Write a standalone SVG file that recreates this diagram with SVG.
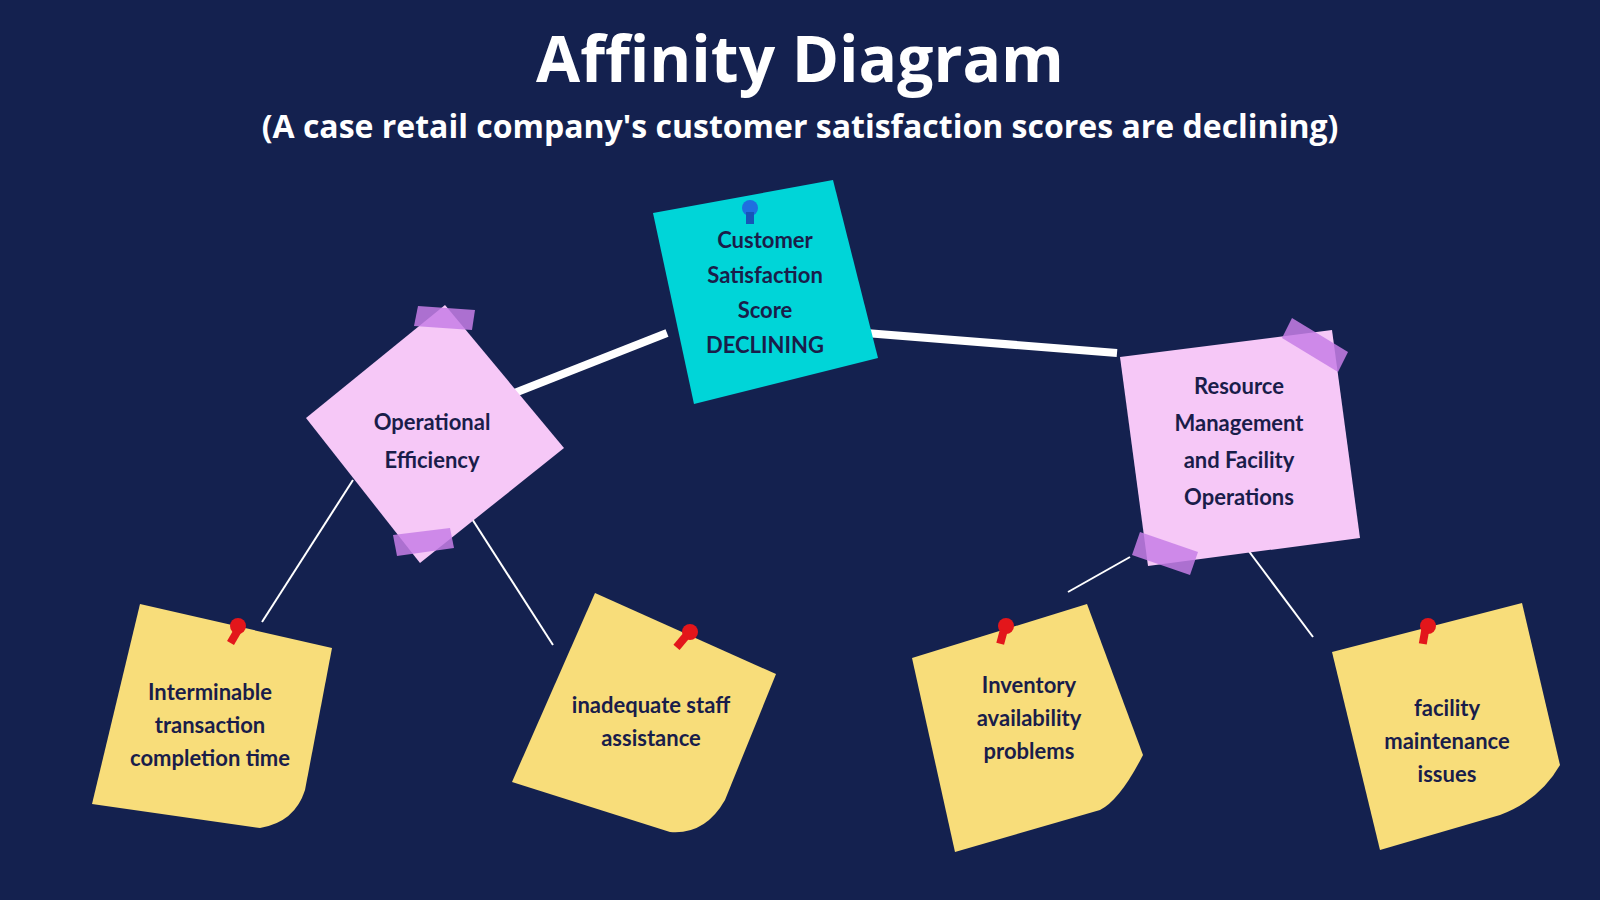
<svg xmlns="http://www.w3.org/2000/svg" width="1600" height="900" viewBox="0 0 1600 900">
<style>
.t{font-family:"Open Sans","Liberation Sans",sans-serif;font-weight:700;fill:#ffffff;text-anchor:middle}
.n{font-family:"Lato","Open Sans","Liberation Sans",sans-serif;font-weight:700;fill:#1a1d4a;text-anchor:middle;font-size:22px}
.y{fill:#f8dd7a}
.p{fill:#f6c8f7}
.tape{fill:#c77ee6;opacity:0.85}
.pin{fill:#e3161b}
.thick{stroke:#ffffff;stroke-width:8;fill:none}
.thin{stroke:#ffffff;stroke-width:2;fill:none}
</style>
<rect width="1600" height="900" fill="#14214f"/>
<text class="t" x="800" y="82" font-size="64">Affinity Diagram</text>
<text class="t" x="800" y="138" font-size="32">(A case retail company's customer satisfaction scores are declining)</text>
<g id="connectors">
<line class="thick" x1="512" y1="394" x2="667" y2="333"/>
<line class="thick" x1="853" y1="332" x2="1117" y2="353"/>
<line class="thin" x1="353" y1="480" x2="262" y2="622"/>
<line class="thin" x1="465" y1="508" x2="553" y2="645"/>
<line class="thin" x1="1130" y1="557" x2="1068" y2="592"/>
<line class="thin" x1="1242" y1="542" x2="1313" y2="637"/>
</g>
<g id="center">
<polygon points="653,213 833,180 878,358 694,404" fill="#00d5d8"/>
<circle cx="750" cy="208" r="8" fill="#1f6fe0"/>
<rect x="746" y="212" width="8" height="12" fill="#1556b8"/>
<text class="n" x="765" y="248">Customer</text>
<text class="n" x="765" y="283">Satisfaction</text>
<text class="n" x="765" y="318">Score</text>
<text class="n" x="765" y="353">DECLINING</text>
</g>
<g id="operational">
<polygon class="p" points="445,305 564,448 420,563 306,418"/>
<polygon class="tape" points="418,306 475,310 472,330 414,326"/>
<polygon class="tape" points="393,535 450,528 454,548 397,556"/>
<text class="n" x="432" y="430" font-size="25">Operational</text>
<text class="n" x="432" y="468" font-size="25">Efficiency</text>
</g>
<g id="resource">
<polygon class="p" points="1120,357 1332,330 1360,538 1148,566"/>
<polygon class="tape" points="1292,318 1348,352 1338,372 1282,338"/>
<polygon class="tape" points="1140,532 1198,552 1190,575 1132,555"/>
<text class="n" x="1239" y="394" font-size="24">Resource</text>
<text class="n" x="1239" y="431" font-size="24">Management</text>
<text class="n" x="1239" y="468" font-size="24">and Facility</text>
<text class="n" x="1239" y="505" font-size="24">Operations</text>
</g>
<g id="note1">
<path class="y" d="M140,604 L332,648 L305,790 Q295,822 260,828 L92,804 Z"/>
<circle class="pin" cx="238" cy="626" r="8"/><rect class="pin" x="230" y="630" width="8" height="14" transform="rotate(30 234 637)"/>
<text class="n" x="210" y="700">Interminable</text>
<text class="n" x="210" y="733">transaction</text>
<text class="n" x="210" y="766">completion time</text>
</g>
<g id="note2">
<path class="y" d="M595,593 L776,674 L725,800 Q705,835 670,832 L512,782 Z"/>
<circle class="pin" cx="690" cy="632" r="8"/><rect class="pin" x="677" y="635" width="8" height="14" transform="rotate(40 681 642)"/>
<text class="n" x="651" y="713">inadequate staff</text>
<text class="n" x="651" y="746">assistance</text>
</g>
<g id="note3">
<path class="y" d="M912,658 L1087,604 L1143,755 Q1120,800 1100,810 L955,852 Z"/>
<circle class="pin" cx="1006" cy="626" r="8"/><rect class="pin" x="998" y="630" width="8" height="14" transform="rotate(15 1002 637)"/>
<text class="n" x="1029" y="693">Inventory</text>
<text class="n" x="1029" y="726">availability</text>
<text class="n" x="1029" y="759">problems</text>
</g>
<g id="note4">
<path class="y" d="M1332,652 L1522,603 L1560,765 Q1540,800 1500,815 L1380,850 Z"/>
<circle class="pin" cx="1428" cy="626" r="8"/><rect class="pin" x="1420" y="630" width="8" height="14" transform="rotate(10 1424 637)"/>
<text class="n" x="1447" y="716">facility</text>
<text class="n" x="1447" y="749">maintenance</text>
<text class="n" x="1447" y="782">issues</text>
</g>
</svg>
